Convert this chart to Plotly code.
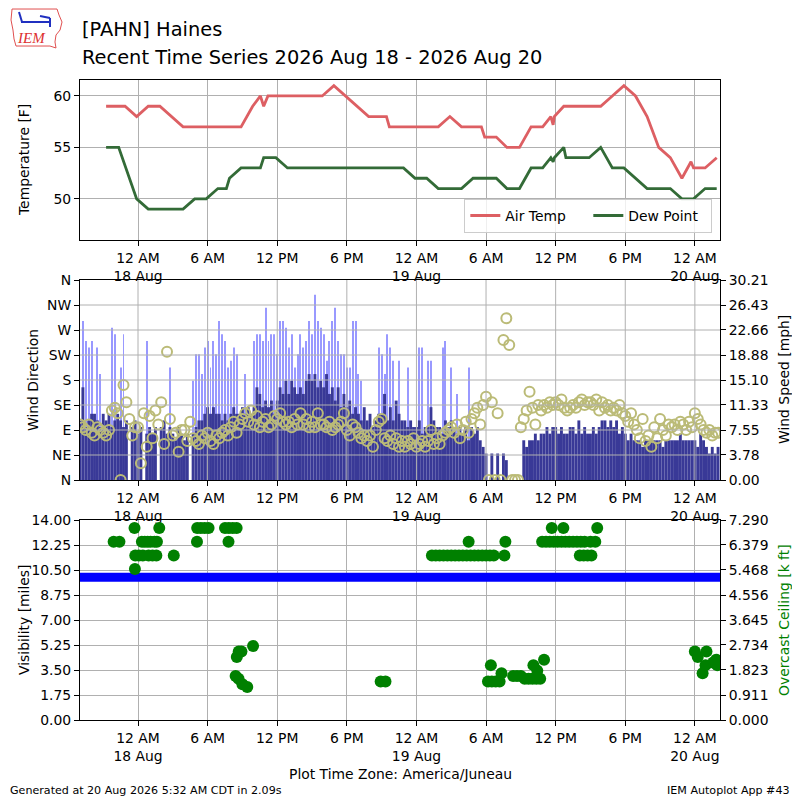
import plotly.graph_objects as go
import pandas as pd

# ---- top panel: air temperature and dew point [F] ----
temp_times = [
    "2026-08-17 21:15", "2026-08-17 22:53", "2026-08-17 23:53",
    "2026-08-18 00:53", "2026-08-18 01:53", "2026-08-18 02:53", "2026-08-18 03:53",
    "2026-08-18 04:53", "2026-08-18 05:53", "2026-08-18 06:53", "2026-08-18 07:53",
    "2026-08-18 08:53", "2026-08-18 09:53", "2026-08-18 10:33", "2026-08-18 10:50",
    "2026-08-18 11:12", "2026-08-18 11:53", "2026-08-18 12:53", "2026-08-18 13:53",
    "2026-08-18 14:53", "2026-08-18 15:53", "2026-08-18 16:53", "2026-08-18 17:53",
    "2026-08-18 18:53", "2026-08-18 19:53", "2026-08-18 20:53", "2026-08-18 21:25",
    "2026-08-18 21:40", "2026-08-18 21:53", "2026-08-18 22:53", "2026-08-18 23:53",
    "2026-08-19 00:53", "2026-08-19 01:53", "2026-08-19 02:53", "2026-08-19 03:53",
    "2026-08-19 04:53", "2026-08-19 05:36", "2026-08-19 05:53", "2026-08-19 06:53",
    "2026-08-19 07:48", "2026-08-19 08:53", "2026-08-19 09:53", "2026-08-19 10:53",
    "2026-08-19 11:35", "2026-08-19 11:47", "2026-08-19 11:53", "2026-08-19 12:42",
    "2026-08-19 12:53", "2026-08-19 13:53", "2026-08-19 14:53", "2026-08-19 15:53",
    "2026-08-19 16:53", "2026-08-19 17:53", "2026-08-19 18:53", "2026-08-19 19:53",
    "2026-08-19 20:53", "2026-08-19 21:53", "2026-08-19 22:53", "2026-08-19 23:40",
    "2026-08-19 23:53", "2026-08-20 00:53", "2026-08-20 01:53",
]
temp_f = [
    59, 59, 58,
    59, 59, 58, 57, 57, 57, 57, 57, 57, 59, 60, 59, 60, 60, 60, 60, 60, 60,
    61, 60, 59, 58, 58, 58, 57, 57, 57, 57,
    57, 57, 58, 57, 57, 57, 56, 56, 55, 55, 57, 57, 58, 57.2, 58, 59,
    59, 59, 59, 59, 60, 61, 60, 58, 55, 54, 52, 53.6, 53,
    53, 54,
]

dew_times = [
    "2026-08-17 21:15", "2026-08-17 22:20", "2026-08-17 23:53",
    "2026-08-18 00:53", "2026-08-18 01:53", "2026-08-18 02:53", "2026-08-18 03:53",
    "2026-08-18 04:53", "2026-08-18 05:53", "2026-08-18 06:53", "2026-08-18 07:37",
    "2026-08-18 07:53", "2026-08-18 08:53", "2026-08-18 09:53", "2026-08-18 10:33",
    "2026-08-18 10:50", "2026-08-18 11:12", "2026-08-18 11:53", "2026-08-18 12:53",
    "2026-08-18 13:53", "2026-08-18 14:53", "2026-08-18 15:53", "2026-08-18 16:53",
    "2026-08-18 17:53", "2026-08-18 18:53", "2026-08-18 19:53", "2026-08-18 20:53",
    "2026-08-18 21:53", "2026-08-18 22:53", "2026-08-18 23:53",
    "2026-08-19 00:53", "2026-08-19 01:53", "2026-08-19 02:53", "2026-08-19 03:53",
    "2026-08-19 04:53", "2026-08-19 05:53", "2026-08-19 06:53", "2026-08-19 07:48",
    "2026-08-19 08:53", "2026-08-19 09:53", "2026-08-19 10:53", "2026-08-19 11:35",
    "2026-08-19 11:47", "2026-08-19 11:53", "2026-08-19 12:42", "2026-08-19 12:53",
    "2026-08-19 13:53", "2026-08-19 14:53", "2026-08-19 15:53", "2026-08-19 16:53",
    "2026-08-19 17:53", "2026-08-19 18:53", "2026-08-19 19:53", "2026-08-19 20:53",
    "2026-08-19 21:53", "2026-08-19 22:53", "2026-08-19 23:53",
    "2026-08-20 00:53", "2026-08-20 01:53",
]
dewp_f = [
    55, 55, 50,
    49, 49, 49, 49, 50, 50, 51, 51, 52, 53, 53, 53, 54, 54, 54, 53,
    53, 53, 53, 53, 53, 53, 53, 53, 53, 53, 52,
    52, 51, 51, 51, 52, 52, 52, 51, 51, 53, 53, 54, 53.6, 54, 55, 54,
    54, 54, 55, 53, 53, 52, 51, 51, 51, 50, 50,
    51, 51,
]

# ---- middle panel: 15 minute wind samples, 17 Aug 19:00 -> 20 Aug 02:00 ----
wind_start = "2026-08-17 19:00"
wind_speed_mph = [
    9, 14, 8, 9,     10, 10, 9, 8,     10, 9, 10, 8,     9, 10, 9, 8,      # 19-22h
    9, 0, 8, 9,      7, 8, 0, 7,       8, 7, 8, 0,       8, 9, 7, 8,       # 23-02h
    7, 6, 8, 7,      6, 7, 0, 7,       8, 9, 9, 10,      11, 10, 11, 10,   # 03-06h
    10, 9, 10, 9,    10, 11, 10, 10,   11, 10, 11, 10,   11, 14, 13, 11,   # 07-10h
    12, 11, 12, 10,  12, 14, 13, 15,   13, 15, 14, 13,   14, 13, 15, 16,   # 11-14h
    15, 16, 14, 15,  14, 16, 13, 14,   12, 14, 11, 13,   11, 12, 10, 11,   # 15-18h
    10, 9, 11, 9,    10, 8, 9, 10,     10, 13, 9, 11,    9, 12, 10, 9,     # 19-22h
    9, 8, 9, 8,      8, 9, 7, 8,       8, 11, 9, 8,      8, 7, 9, 8,       # 23-02h
    9, 8, 7, 8,      7, 8, 6, 8,       7, 8, 6, 5,       4, 0, 4, 0,       # 03-06h
    4, 0, 4, 3,      0, 0, 0, 0,       0, 6, 5, 6,       6, 7, 6, 7,       # 07-10h
    7, 8, 7, 8,      8, 7, 8, 7,       7, 8, 8, 7,       9, 7, 8, 7,       # 11-14h
    7, 8, 7, 8,      9, 9, 8, 9,       8, 9, 7, 8,       7, 6, 7, 6,       # 15-18h
    6, 6, 5, 6,      6, 6, 6, 6,       6, 5, 6, 6,       6, 6, 6, 7,       # 19-22h
    6, 6, 6, 6,      6, 5, 7, 6,       5, 4, 5, 4,       5,                # 23-02h
]
wind_gust_mph = [
    0, 24, 21, 20,   21, 0, 20, 16,    0, 0, 0, 23,      22, 0, 17, 22,
    0, 0, 0, 0,      0, 0, 0, 21,      0, 0, 0, 0,       0, 0, 0, 17,
    0, 0, 0, 0,      0, 0, 0, 15,      19, 19, 16, 20,   21, 17, 21, 19,
    24, 22, 21, 17,  18, 20, 19, 0,    0, 16, 0, 0,      21, 22, 22, 21,
    26, 21, 22, 22,  19, 24, 24, 23,   20, 22, 17, 19,   22, 20, 21, 24,
    22, 28, 24, 23,  22, 18, 21, 24,   26, 21, 19, 19,   17, 17, 24, 24,
    16, 15, 0, 0,    0, 0, 0, 20,      19, 16, 22, 20,   18, 0, 18, 0,
    0, 17, 0, 0,     0, 20, 20, 0,     18, 18, 0, 0,     0, 20, 21, 0,
    17, 0, 13, 0,    0, 0, 17, 0,      0, 0, 0, 0,       0, 0, 0, 0,
    0, 0, 0, 0,      0, 0, 0, 0,       0, 0, 0, 0,       0, 0, 0, 0,
    0, 0, 0, 0,      0, 0, 0, 0,       0, 0, 0, 0,       0, 0, 0, 0,
    0, 0, 0, 0,      0, 0, 0, 0,       0, 0, 0, 0,       0, 0, 0, 0,
    0, 0, 0, 0,      0, 0, 0, 0,       0, 0, 0, 0,       0, 0, 0, 0,
    0, 0, 0, 0,      0, 0, 0, 0,       0, 0, 0, 0,       0,
]
wind_dir_deg = [
    100, 95, 90, 100,   85, 80, 95, 90,     85, 80, 90, 125,    130, 120, 0, 171,
    140, 110, 80, 95,   95, 30, 120, 60,    115, 75, 125, 100,  140, 65, 231, 110,
    80, 85, 51, 90,     90, 70, 105, 75,    70, 65, 80, 75,     85, 70, 65, 80,
    75, 85, 90, 80,     95, 105, 85, 100,   110, 120, 105, 125, 100, 115, 95, 105,
    110, 95, 100, 115,  110, 120, 105, 100, 105, 95, 110, 100,  120, 100, 110, 95,
    105, 95, 120, 100,  100, 95, 105, 90,   95, 100, 105, 120,  90, 80, 100, 95,
    85, 75, 80, 70,     80, 60, 90, 105,    110, 75, 70, 80,    65, 75, 60, 70,
    60, 70, 65, 75,     60, 65, 70, 60,     70, 90, 65, 75,     65, 80, 85, 90,
    95, 85, 100, 75,    90, 105, 85, 110,   120, 130, 100, 135, 150, 0, 140, 0,
    120, 0, 252, 291,   243, 0, 0, 0,       95, 110, 125, 159,  130, 100, 135, 125,
    135, 130, 140, 135, 140, 135, 145, 130, 125, 130, 135, 130, 140, 145, 135, 140,
    140, 135, 145, 125, 140, 130, 135, 125, 130, 125, 135, 120, 115, 105, 120, 100,
    90, 75, 110, 70,    80, 60, 95, 75,     110, 90, 80, 100,   95, 100, 90, 105,
    100, 90, 105, 95,   120, 110, 100, 90,  85, 90, 80, 85,     85,
]

# ---- bottom panel: visibility [miles] and overcast ceiling [k ft] ----
vis_times = ["2026-08-17 19:00", "2026-08-20 02:10"]
vis_miles = [10.0, 10.0]

ceil_times = [
    "2026-08-17 21:54", "2026-08-17 22:24", "2026-08-17 23:42", "2026-08-17 23:44",
    "2026-08-17 23:46", "2026-08-18 00:05", "2026-08-18 00:20", "2026-08-18 00:25",
    "2026-08-18 00:35", "2026-08-18 00:50", "2026-08-18 00:55", "2026-08-18 01:05",
    "2026-08-18 01:15", "2026-08-18 01:25", "2026-08-18 01:35", "2026-08-18 01:38",
    "2026-08-18 01:50", "2026-08-18 03:05", "2026-08-18 05:05", "2026-08-18 05:06",
    "2026-08-18 05:25", "2026-08-18 05:45", "2026-08-18 06:05", "2026-08-18 07:30",
    "2026-08-18 07:48", "2026-08-18 07:50", "2026-08-18 08:10", "2026-08-18 08:25",
    "2026-08-18 08:30", "2026-08-18 08:31", "2026-08-18 08:40", "2026-08-18 08:41",
    "2026-08-18 08:55", "2026-08-18 09:00", "2026-08-18 09:25", "2026-08-18 09:55",
    "2026-08-18 20:55", "2026-08-18 21:20",
    "2026-08-19 01:20", "2026-08-19 01:40", "2026-08-19 02:00", "2026-08-19 02:20",
    "2026-08-19 02:40", "2026-08-19 03:00", "2026-08-19 03:20", "2026-08-19 03:40",
    "2026-08-19 04:00", "2026-08-19 04:20", "2026-08-19 04:30", "2026-08-19 04:40",
    "2026-08-19 05:00", "2026-08-19 05:20", "2026-08-19 05:40", "2026-08-19 06:00",
    "2026-08-19 06:10", "2026-08-19 06:20", "2026-08-19 06:25", "2026-08-19 06:30",
    "2026-08-19 06:40", "2026-08-19 06:50", "2026-08-19 07:10", "2026-08-19 07:20",
    "2026-08-19 07:35", "2026-08-19 07:40", "2026-08-19 08:20", "2026-08-19 08:40",
    "2026-08-19 09:00", "2026-08-19 09:20", "2026-08-19 09:40", "2026-08-19 10:00",
    "2026-08-19 10:05", "2026-08-19 10:20", "2026-08-19 10:25", "2026-08-19 10:40",
    "2026-08-19 10:50", "2026-08-19 11:00", "2026-08-19 11:10", "2026-08-19 11:30",
    "2026-08-19 11:40", "2026-08-19 11:50", "2026-08-19 12:10", "2026-08-19 12:30",
    "2026-08-19 12:40", "2026-08-19 12:50", "2026-08-19 13:10", "2026-08-19 13:30",
    "2026-08-19 13:50", "2026-08-19 14:05", "2026-08-19 14:10", "2026-08-19 14:25",
    "2026-08-19 14:30", "2026-08-19 14:45", "2026-08-19 15:00", "2026-08-19 15:05",
    "2026-08-19 15:25", "2026-08-19 15:35",
    "2026-08-20 00:00", "2026-08-20 00:15", "2026-08-20 00:40", "2026-08-20 00:55",
    "2026-08-20 01:00", "2026-08-20 01:35", "2026-08-20 01:50", "2026-08-20 01:55",
]
ceil_kft = [
    6.5, 6.5, 7.0, 5.5,
    6.0, 6.0, 6.5, 6.0,
    6.5, 6.5, 6.0, 6.5,
    6.0, 6.5, 6.0, 6.5,
    7.0, 6.0, 6.5, 7.0,
    7.0, 7.0, 7.0, 7.0,
    6.5, 7.0, 7.0, 1.6,
    7.0, 2.3, 1.5, 2.5,
    2.5, 1.3, 1.2, 2.7,
    1.4, 1.4,
    6.0, 6.0, 6.0, 6.0,
    6.0, 6.0, 6.0, 6.0,
    6.0, 6.0, 6.5, 6.0,
    6.0, 6.0, 6.0, 6.0,
    1.4, 6.0, 2.0, 1.4,
    6.0, 1.4, 1.4, 1.7,
    6.0, 6.5, 1.6, 1.6,
    1.6, 1.5, 1.5, 1.5,
    2.0, 1.5, 1.8, 1.5,
    6.5, 2.2, 6.5, 6.5,
    7.0, 6.5, 6.5, 6.5,
    7.0, 6.5, 6.5, 6.5,
    6.5, 6.0, 6.5, 6.0,
    6.5, 6.0, 6.5, 6.0,
    6.5, 7.0,
    2.5, 2.3, 1.7, 2.0,
    2.5, 2.1, 2.2, 2.0,
]

# ---- axis labels ----
tick_times = ["2026-08-18 00:00", "2026-08-18 06:00", "2026-08-18 12:00", "2026-08-18 18:00",
              "2026-08-19 00:00", "2026-08-19 06:00", "2026-08-19 12:00", "2026-08-19 18:00",
              "2026-08-20 00:00"]
tick_text = ["12 AM<br>18 Aug", "6 AM", "12 PM", "6 PM", "12 AM<br>19 Aug",
             "6 AM", "12 PM", "6 PM", "12 AM<br>20 Aug"]
dir_ticks = [0, 45, 90, 135, 180, 225, 270, 315, 360]
dir_labels = ["N", "NE", "E", "SE", "S", "SW", "W", "NW", "N"]
speed_labels = ["0.00", "3.78", "7.55", "11.33", "15.10", "18.88", "22.66", "26.43", "30.21"]
vis_labels = ["0.00", "1.75", "3.50", "5.25", "7.00", "8.75", "10.50", "12.25", "14.00"]
ceil_labels = ["0.000", "0.911", "1.823", "2.734", "3.645", "4.556", "5.468", "6.379", "7.290"]

x_range = ["2026-08-17 19:00", "2026-08-20 02:10"]
FONT = "DejaVu Sans"
GRID = "#b0b0b0"

wind_times = pd.date_range(wind_start, periods=len(wind_speed_mph), freq="15min")


def paper(px, py):
    # pixel position on the 800x800 page -> paper coords (plot area 80..720)
    return (px - 80) / 640, (720 - py) / 640


fig = go.Figure()

# temperature
fig.add_trace(go.Scatter(x=temp_times, y=temp_f, mode="lines", name="Air Temp",
                         line=dict(color="#dd5f63", width=2.8), xaxis="x", yaxis="y"))
fig.add_trace(go.Scatter(x=dew_times, y=dewp_f, mode="lines", name="Dew Point",
                         line=dict(color="#336b37", width=2.8), xaxis="x", yaxis="y"))

# wind: gusts, speed, direction
fig.add_trace(go.Bar(x=wind_times, y=wind_gust_mph, width=5 * 60 * 1000,
                     marker=dict(color="#9999ff", line=dict(width=0)),
                     xaxis="x2", yaxis="y2", showlegend=False))
fig.add_trace(go.Bar(x=wind_times, y=wind_speed_mph, width=15 * 60 * 1000,
                     marker=dict(color="#393997", line=dict(width=0)),
                     xaxis="x2", yaxis="y2", showlegend=False))
fig.add_trace(go.Scatter(x=wind_times, y=wind_dir_deg, mode="markers",
                         marker=dict(symbol="circle-open", size=10, color="#bbbb77",
                                     line=dict(width=2)),
                         xaxis="x2", yaxis="y3", showlegend=False))

# visibility and ceiling
fig.add_trace(go.Scatter(x=vis_times, y=vis_miles, mode="lines",
                         line=dict(color="#0000ff", width=9),
                         xaxis="x3", yaxis="y4", showlegend=False))
fig.add_trace(go.Scatter(x=ceil_times, y=ceil_kft, mode="markers",
                         marker=dict(color="#008000", size=12),
                         xaxis="x3", yaxis="y5", showlegend=False))

tickfont = dict(family=FONT, size=13.9, color="black")
xcommon = dict(type="date", range=x_range, tickvals=tick_times, ticktext=tick_text,
               showline=True, mirror=True, linecolor="black", linewidth=1,
               ticks="outside", ticklen=5, tickcolor="black", tickfont=tickfont,
               showgrid=True, gridcolor=GRID, gridwidth=1, zeroline=False)
ycommon = dict(showline=True, mirror=True, linecolor="black", linewidth=1,
               ticks="outside", ticklen=5, tickcolor="black", tickfont=tickfont,
               zeroline=False)

# the page body has an 8px margin, so the figure is 8px smaller on the top/left
fig.update_layout(
    width=792, height=792, autosize=False,
    margin=dict(l=72, r=80, t=72, b=80),
    paper_bgcolor="white", plot_bgcolor="white",
    font=dict(family=FONT, size=13.9, color="black"),
    barmode="overlay",
    xaxis=dict(xcommon, anchor="y"),
    xaxis2=dict(xcommon, anchor="y2", showgrid=False),
    xaxis3=dict(xcommon, anchor="y4"),
    yaxis=dict(ycommon, domain=[0.75, 1.0], range=[46, 61.55], tickvals=[50, 55, 60],
               showgrid=True, gridcolor=GRID, gridwidth=1),
    yaxis2=dict(ycommon, domain=[0.375, 0.6875], anchor="x2", side="right",
                range=[0, 30.21], tickvals=[float(s) for s in speed_labels],
                ticktext=speed_labels, showgrid=False),
    yaxis3=dict(ycommon, overlaying="y2", anchor="x2", side="left", range=[0, 360],
                tickvals=dir_ticks, ticktext=dir_labels, showgrid=False, showline=False),
    yaxis4=dict(ycommon, domain=[0.0, 0.3125], anchor="x3", range=[0, 14],
                tickvals=[float(s) for s in vis_labels], ticktext=vis_labels,
                showgrid=True, gridcolor=GRID, gridwidth=1),
    yaxis5=dict(ycommon, overlaying="y4", anchor="x3", side="right", range=[0, 7.29],
                tickvals=[float(s) for s in ceil_labels], ticktext=ceil_labels,
                showgrid=False, showline=False),
    legend=dict(orientation="h", x=0.988, xanchor="right", y=0.761, yanchor="bottom",
                bgcolor="rgba(255,255,255,0.8)", bordercolor="#cccccc", borderwidth=1,
                font=dict(family=FONT, size=13.9), itemwidth=30, entrywidth=78),
)

# grid of the wind panel sits above the bars, as in the original
shapes = []
for d in dir_ticks[1:-1]:
    shapes.append(dict(type="line", xref="x2 domain", yref="y3", x0=0, x1=1, y0=d, y1=d,
                       line=dict(color=GRID, width=1), layer="above"))
for t in tick_times:
    shapes.append(dict(type="line", xref="x2", yref="y2 domain", x0=t, x1=t, y0=0, y1=1,
                       line=dict(color=GRID, width=1), layer="above"))

# IEM logo (rough outline)
iowa = [(12, 9), (57, 9), (59, 15), (62, 22), (60, 30), (56, 35), (55, 42), (56, 48),
        (50, 46), (16, 46), (14, 39), (13, 30), (11, 20), (12, 9)]
path = "M " + " L ".join("%.4f,%.4f" % paper(*p) for p in iowa) + " Z"
shapes.append(dict(type="path", xref="paper", yref="paper", path=path,
                   line=dict(color="#e05050", width=1)))
for (a, b) in [((21, 22), (50, 22)), ((19, 12), (22, 22)), ((40, 16), (50, 18)),
               ((50, 18), (50, 27))]:
    x0, y0 = paper(*a)
    x1, y1 = paper(*b)
    shapes.append(dict(type="line", xref="paper", yref="paper", x0=x0, y0=y0, x1=x1, y1=y1,
                       line=dict(color="#2030c0", width=2)))
fig.update_layout(shapes=shapes)

ann = []


def label(text, px, py, size=13.9, xanchor="center", angle=0, color="black", **kw):
    x, y = paper(px, py)
    ann.append(dict(text=text, x=x, y=y, xref="paper", yref="paper", showarrow=False,
                    xanchor=xanchor, yanchor="middle", textangle=angle,
                    font=dict(family=FONT, size=size, color=color), **kw))


label("[PAHN] Haines", 80, 29, size=19.4, xanchor="left")
label("Recent Time Series 2026 Aug 18 - 2026 Aug 20", 80, 57, size=19.4, xanchor="left")
label("Temperature [F]", 24, 160, angle=-90)
label("Wind Direction", 33, 380, angle=-90)
label("Visibility [miles]", 24, 620, angle=-90)
label("Wind Speed [mph]", 784, 380, angle=-90)
label("Overcast Ceiling [k ft]", 784, 620, angle=-90, color="#008000")
label("Plot Time Zone: America/Juneau", 400, 774)
label("Generated at 20 Aug 2026 5:32 AM CDT in 2.09s", 8, 790, size=11.1, xanchor="left")
label("IEM Autoplot App #43", 792, 790, size=11.1, xanchor="right")
ann.append(dict(text="<i>IEM</i>", x=paper(31, 38)[0], y=paper(31, 38)[1], xref="paper",
                yref="paper", showarrow=False, xanchor="center", yanchor="middle",
                font=dict(family="Liberation Serif", size=15, color="#dd3030")))
fig.update_layout(annotations=ann)

fig.write_html("out.html")
